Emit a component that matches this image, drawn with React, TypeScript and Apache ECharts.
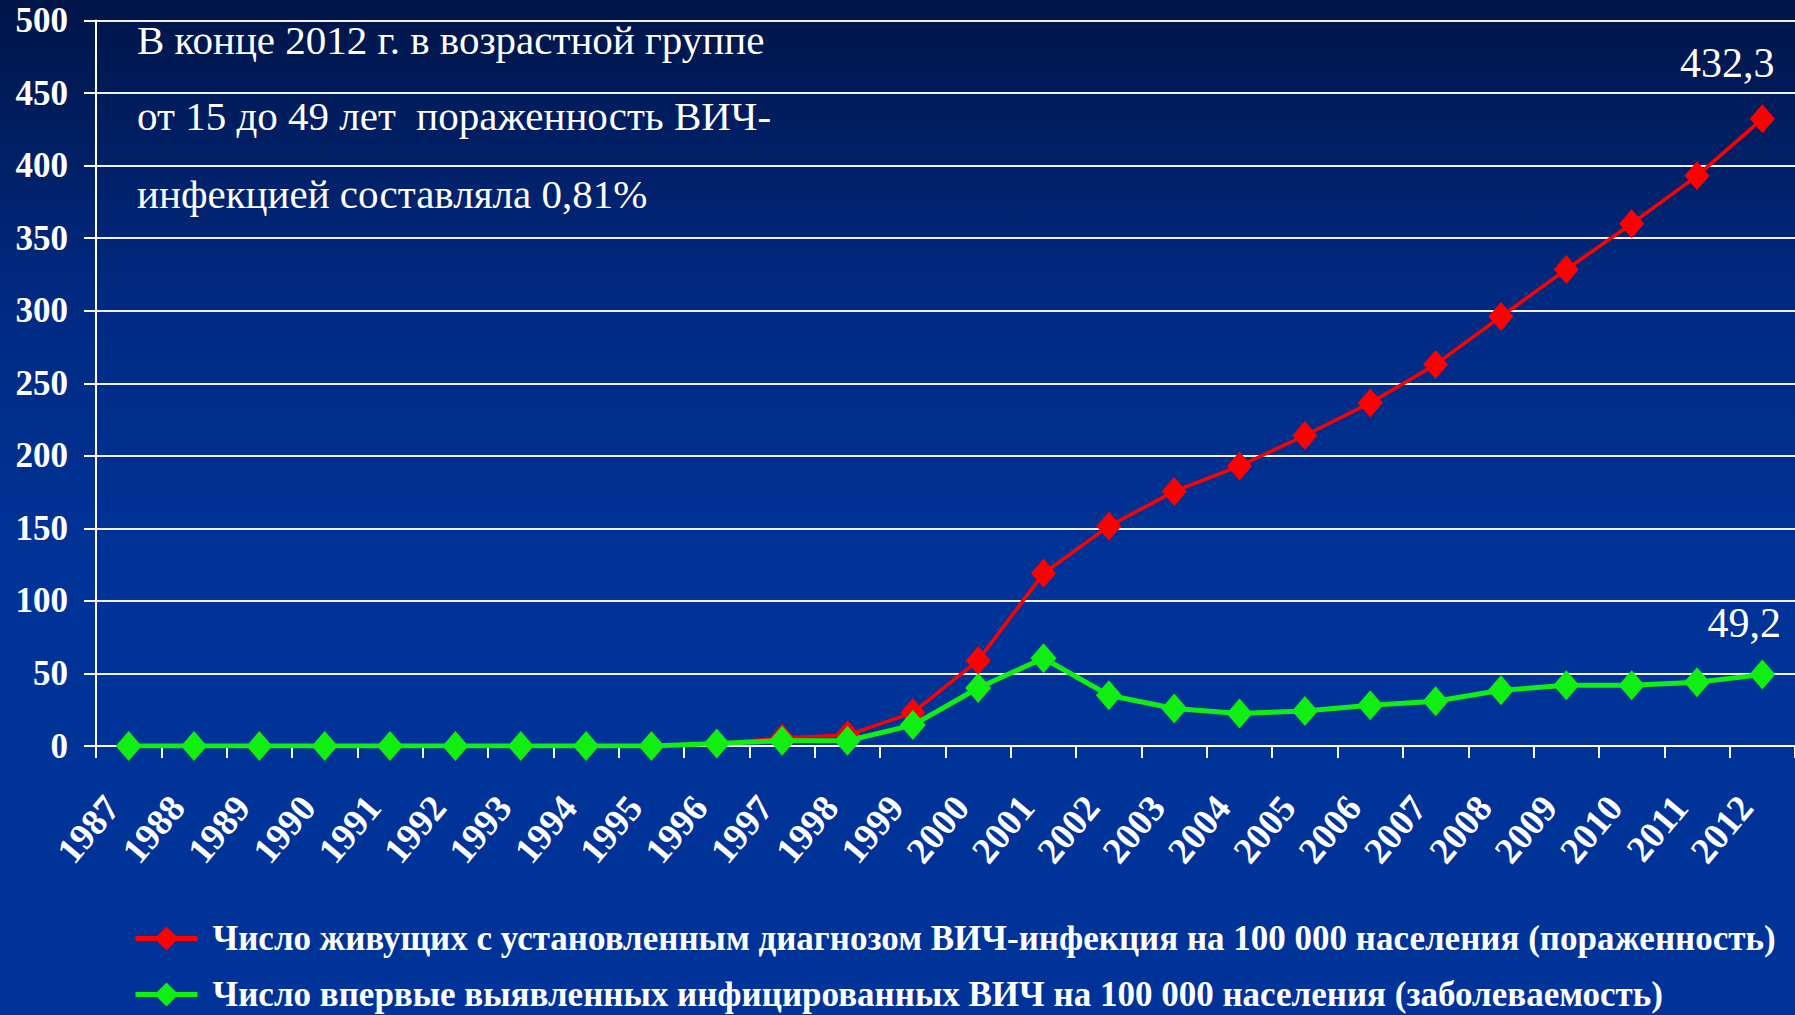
import React, { useEffect, useRef } from "react";
import * as echarts from "echarts";

const years = [
  "1987", "1988", "1989", "1990", "1991", "1992", "1993", "1994", "1995", "1996",
  "1997", "1998", "1999", "2000", "2001", "2002", "2003", "2004", "2005", "2006",
  "2007", "2008", "2009", "2010", "2011", "2012",
];

// Число живущих с установленным диагнозом ВИЧ-инфекция на 100 000 населения (пораженность)
const prevalence = [
  0, 0, 0, 0, 0, 0, 0, 0, 0.2, 1.5,
  5.5, 7.5, 23, 59, 119, 151.5, 175.5, 193, 214, 236.5,
  263, 296, 328.5, 360, 393, 432.3,
];

// Число впервые выявленных инфицированных ВИЧ на 100 000 населения (заболеваемость)
const incidence = [
  0, 0, 0, 0, 0, 0, 0, 0, 0, 1.8,
  3.6, 3.6, 14.4, 40, 60.5, 35, 25.8, 22.4, 24.2, 28.1,
  30.8, 38.4, 41.8, 41.8, 44, 49.2,
];

const seriesNames = [
  "Число живущих с установленным диагнозом ВИЧ-инфекция на 100 000 населения (пораженность)",
  "Число впервые выявленных инфицированных ВИЧ на 100 000 населения (заболеваемость)",
];

const noteLines = [
  "В конце 2012 г. в возрастной группе",
  "от 15 до 49 лет  пораженность ВИЧ-",
  "инфекцией составляла 0,81%",
];

const SERIF = "'Liberation Serif', 'Times New Roman', serif";

function fmt(v: number) {
  return String(v).replace(".", ",");
}

export default function App() {
  const ref = useRef<HTMLDivElement>(null);

  useEffect(() => {
    if (!ref.current) return;
    const chart = echarts.init(ref.current, undefined, { renderer: "svg" });
    const last = years.length - 1;

    const mkData = (arr: number[], offset: [number, number]) =>
      arr.map((v, i) =>
        i === last
          ? {
              value: v,
              label: {
                show: true,
                position: "top",
                offset,
                formatter: () => fmt(v),
                color: "#ffffff",
                fontFamily: SERIF,
                fontSize: 42,
              },
            }
          : v
      );

    const legendText = {
      color: "#ffffff",
      fontFamily: SERIF,
      fontWeight: "bold",
      fontSize: 35,
      padding: [0, 0, 0, 10],
    };

    chart.setOption({
      animation: false,
      backgroundColor: new echarts.graphic.LinearGradient(0, 0, 0, 1, [
        { offset: 0, color: "#001548" },
        { offset: 0.3, color: "#002a82" },
        { offset: 0.55, color: "#003397" },
        { offset: 1, color: "#003399" },
      ]),
      grid: { left: 96, top: 20.6, height: 725.4, width: 1705.6 },
      xAxis: {
        type: "category",
        data: years,
        boundaryGap: true,
        axisLine: { show: true, lineStyle: { color: "#ffffff", width: 2 } },
        axisTick: { show: true, length: 12, lineStyle: { color: "#ffffff", width: 2 } },
        axisLabel: {
          interval: 0,
          rotate: 50,
          margin: 35,
          color: "#ffffff",
          fontFamily: SERIF,
          fontWeight: "bold",
          fontSize: 37,
          padding: [0, 26, 0, 0],
        },
      },
      yAxis: {
        type: "value",
        min: 0,
        max: 500,
        interval: 50,
        axisLine: { show: true, lineStyle: { color: "#ffffff", width: 2 } },
        axisTick: { show: true, length: 12, lineStyle: { color: "#ffffff", width: 2 } },
        axisLabel: {
          margin: 28,
          color: "#ffffff",
          fontFamily: SERIF,
          fontWeight: "bold",
          fontSize: 35,
        },
        splitLine: { show: true, lineStyle: { color: "#f0f0f0", width: 2 } },
      },
      legend: [
        {
          left: 128,
          top: 916,
          itemWidth: 62,
          itemHeight: 30,
          lineStyle: { width: 5 },
          textStyle: legendText,
          data: [seriesNames[0]],
        },
        {
          left: 128,
          top: 972,
          itemWidth: 62,
          itemHeight: 30,
          lineStyle: { width: 5 },
          textStyle: legendText,
          data: [seriesNames[1]],
        },
      ],
      graphic: noteLines.map((t, i) => ({
        type: "text",
        left: 137,
        top: [19, 95, 173][i],
        style: {
          text: t,
          fill: "#ffffff",
          font: `41px ${SERIF}`,
        },
      })),
      series: [
        {
          name: seriesNames[0],
          type: "line",
          data: mkData(prevalence, [-35, -15]),
          symbol: "diamond",
          symbolSize: [25, 29],
          itemStyle: { color: "#ff0000" },
          lineStyle: { color: "#ff0000", width: 3.5 },
          z: 2,
        },
        {
          name: seriesNames[1],
          type: "line",
          data: mkData(incidence, [-18, -11]),
          symbol: "diamond",
          symbolSize: [26, 30],
          itemStyle: { color: "#11ee11" },
          lineStyle: { color: "#11ee11", width: 5 },
          z: 3,
        },
      ],
    });

    return () => chart.dispose();
  }, []);

  return (
    <div
      ref={ref}
      style={{ position: "absolute", left: 0, top: 0, width: 1795, height: 1015 }}
    />
  );
}
